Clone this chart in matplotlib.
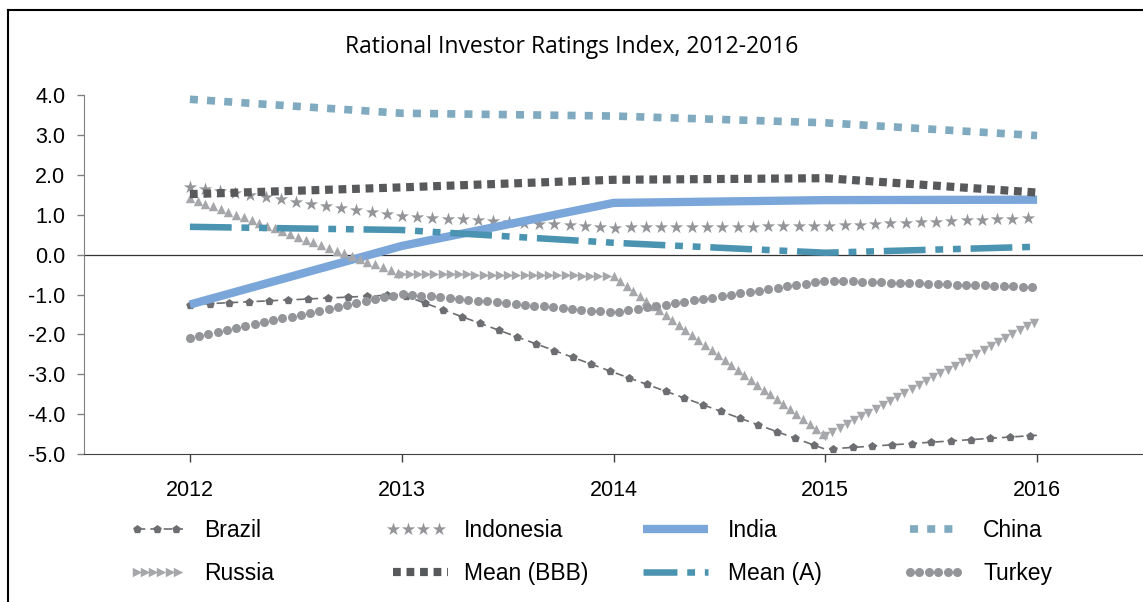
import numpy as np
import matplotlib.pyplot as plt
import matplotlib.colors as mcolors
import matplotlib.patheffects as pe
from matplotlib.lines import Line2D
from matplotlib.legend_handler import HandlerLine2D
from matplotlib.markers import MarkerStyle
from matplotlib.path import Path
from matplotlib.transforms import Affine2D, IdentityTransform
from matplotlib.ticker import FormatStrFormatter

plt.rcParams["font.family"] = ["Liberation Sans", "DejaVu Sans"]
plt.rcParams["axes.unicode_minus"] = False

# values
years = [2012, 2013, 2014, 2015, 2016]
brazil = [-1.25, -1.0, -2.95, -4.88, -4.53]
indonesia = [1.7, 0.97, 0.68, 0.72, 0.93]
india = [-1.25, 0.22, 1.3, 1.37, 1.38]
china = [3.9, 3.55, 3.48, 3.31, 2.99]
russia = [1.42, -0.48, -0.53, -4.55, -1.66]
mean_bbb = [1.52, 1.69, 1.88, 1.92, 1.56]
mean_a = [0.7, 0.62, 0.3, 0.05, 0.2]
turkey = [-2.08, -0.98, -1.45, -0.65, -0.81]


class MarkersAlong(pe.AbstractPathEffect):
    """Stamp a marker at a fixed screen spacing along the drawn line
    (the Excel 'picture' line styles)."""

    def __init__(self, marker, size, spacing, color):
        super().__init__()
        self.marker = marker
        self.size = size
        self.spacing = spacing
        self.rgba = mcolors.to_rgba(color)

    def draw_path(self, renderer, gc, tpath, affine, rgbFace=None):
        verts = affine.transform(tpath.vertices)
        if len(verts) < 2:
            return
        seg = np.diff(verts, axis=0)
        cum = np.concatenate([[0], np.cumsum(np.hypot(seg[:, 0], seg[:, 1]))])
        step = renderer.points_to_pixels(self.spacing)
        d = np.arange(0, cum[-1] + 0.5, step)
        pts = np.column_stack([np.interp(d, cum, verts[:, 0]),
                               np.interp(d, cum, verts[:, 1])])
        ms = MarkerStyle(self.marker)
        mtrans = ms.get_transform() + Affine2D().scale(renderer.points_to_pixels(self.size))
        gc0 = renderer.new_gc()
        gc0.copy_properties(gc)
        gc0.set_linewidth(0)
        gc0.set_dashes(0, None)
        renderer.draw_markers(gc0, ms.get_path(), mtrans, Path(pts),
                              IdentityTransform(), self.rgba)
        gc0.restore()


W, H = 1143, 602
fig = plt.figure(figsize=(W / 100, H / 100), dpi=100)
ax = fig.add_axes([84 / W, 1 - 454 / H, 1 - 84 / W, (454 - 95.3) / H])

ax.axhline(0, color="#333333", lw=0.9, zorder=1)

c_brazil = "#6d6e71"
c_indo = "#939598"
c_russia = "#a6a7aa"
c_turkey = "#949598"

# line styles
st_brazil = dict(color=c_brazil, lw=1.2, ls=(0, (5, 3)),
                 path_effects=[pe.Normal(), MarkersAlong("p", 6.5, 14.2, c_brazil)])
st_indo = dict(color=c_indo, lw=1,
               path_effects=[MarkersAlong("*", 10.0, 11.0, c_indo)])
st_india = dict(color="#7ba6da", lw=6.0, solid_capstyle="butt")
st_china = dict(color="#80aabf", lw=5.5, ls=(0, (1.05, 1.2)), dash_capstyle="butt")
st_bbb = dict(color="#58595b", lw=5.9, ls=(0, (0.95, 0.7)), dash_capstyle="butt")
st_a = dict(color="#4a93b1", lw=4.7, ls=(0, (6.4, 1.5, 1.2, 1.5, 1.2, 1.5)),
            dash_capstyle="butt")
st_turkey = dict(color=c_turkey, lw=1,
                 path_effects=[MarkersAlong("o", 6.5, 6.8, c_turkey)])


def st_russia(m):
    return dict(color=c_russia, lw=1,
                path_effects=[MarkersAlong(m, 6.8, 5.9, c_russia)])


ax.plot(years, brazil, **st_brazil)
ax.plot(years, indonesia, **st_indo)
ax.plot(years, india, **st_india)
ax.plot(years, china, **st_china)
# Russia: triangle direction changes per segment like the original
for i, m in enumerate(["^", ">", "^", "v"]):
    ax.plot(years[i:i + 2], russia[i:i + 2], **st_russia(m))
ax.plot(years, mean_bbb, **st_bbb)
ax.plot(years, mean_a, **st_a)
ax.plot(years, turkey, **st_turkey)

ax.set_xlim(2011.5, 2016.5)
ax.set_ylim(-5, 4)
ax.set_xticks(years)
ax.set_yticks(range(-5, 5))
ax.yaxis.set_major_formatter(FormatStrFormatter("%.1f"))
ax.tick_params(axis="y", direction="out", length=5, width=1, color="#808080",
               labelsize=15.5, pad=8.5)
ax.tick_params(axis="x", direction="out", length=6, width=1, color="#404040",
               labelsize=15.5, pad=13)
for s in ["top", "right"]:
    ax.spines[s].set_visible(False)
ax.spines["left"].set_color("#808080")
ax.spines["bottom"].set_color("#404040")

fig.text(0.5, 1 - 47 / H, "Rational Investor Ratings Index, 2012-2016",
         ha="center", va="center", fontsize=16.5, family=["Open Sans", "DejaVu Sans"])

# shorter long dash in the legend so the two dots fit in the key
st_a_key = dict(st_a, ls=(0, (5.2, 1.5, 1.2, 1.5, 1.2, 1.5)))

# legend, built as four columns: (handle start px, handle length, text pad, entries)
columns = [
    (130, 2.6, 0.65, [("Brazil", st_brazil), ("Russia", st_russia(">"))]),
    (386, 3.0, 0.4, [("Indonesia", st_indo), ("Mean (BBB)", st_bbb)]),
    (636, 3.42, 0.6, [("India", st_india), ("Mean (A)", st_a_key)]),
    (903, 2.65, 0.85, [("China", st_china), ("Turkey", st_turkey)]),
]
for x, hl, tp, entries in columns:
    labels = [e[0] for e in entries]
    handles = [Line2D([], [], **e[1]) for e in entries]
    hmap = {h: HandlerLine2D(numpoints=2) for h in handles}
    fig.legend(handles, labels, loc="upper left", bbox_to_anchor=(x / W, 1 - 519 / H),
               frameon=False, fontsize=16.5, handlelength=hl, handletextpad=tp,
               labelspacing=0.88, borderpad=0, borderaxespad=0, handler_map=hmap)

# partial frame around the chart
fig.add_artist(Line2D([8 / W, 8 / W], [0, 1 - 10 / H], transform=fig.transFigure,
                      color="black", lw=1.5))
fig.add_artist(Line2D([8 / W, 1], [1 - 10 / H, 1 - 10 / H], transform=fig.transFigure,
                      color="black", lw=1.5))

fig.savefig("out.png", dpi=100)
